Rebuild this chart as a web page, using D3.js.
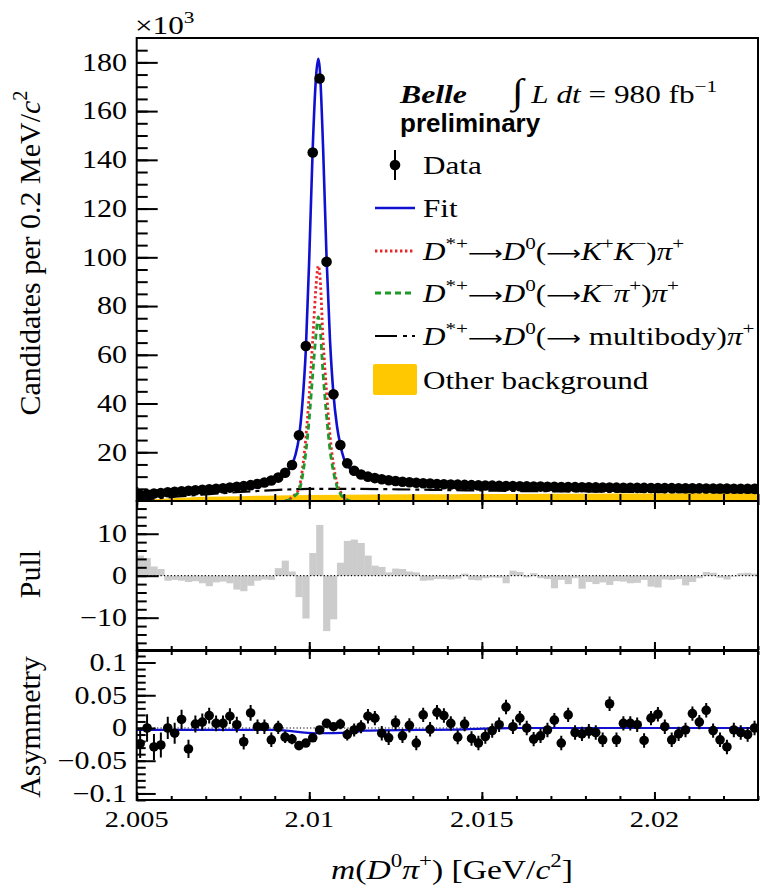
<!DOCTYPE html>
<html>
  <head>
    <meta charset="utf-8" />
    <title>Belle D*+ mass fit</title>
    <style>
      html,
      body {
        margin: 0;
        padding: 0;
        background: #fff;
      }
      svg {
        display: block;
      }
      text {
        font-family: 'Liberation Serif', 'Times New Roman', serif;
        fill: #000;
      }
    </style>
  </head>
  <body>
    <svg width="760" height="889"></svg>
    <script src="https://cdn.jsdelivr.net/npm/d3@7"></script>
    <script>
      // 0.2 MeV bins starting at 2.005 GeV
      const massLow = 2.005;
      const binWidth = 0.0002;

      // candidates per bin, x10^3
      const counts = [
        2.5, 2.8, 3.1, 3.3, 3.6, 3.8, 4.0, 4.2, 4.4, 4.6,
        4.8, 5.0, 5.2, 5.5, 5.8, 6.1, 6.5, 7.0, 7.6, 8.4,
        9.6, 11.6, 14.8, 27.0, 63.6, 143.0, 173.4, 98.2, 43.8, 23.0,
        15.5, 12.4, 10.9, 10.0, 9.4, 8.9, 8.5, 8.2, 7.9, 7.7,
        7.5, 7.3, 7.2, 7.0, 6.9, 6.8, 6.7, 6.6, 6.5, 6.4,
        6.35, 6.3, 6.2, 6.15, 6.1, 6.05, 6.0, 5.95, 5.9, 5.85,
        5.8, 5.75, 5.7, 5.68, 5.65, 5.6, 5.58, 5.55, 5.5, 5.48,
        5.45, 5.42, 5.4, 5.38, 5.35, 5.32, 5.3, 5.28, 5.25, 5.22,
        5.2, 5.18, 5.15, 5.12, 5.1, 5.08, 5.05, 5.02, 5.0, 4.98,
      ];

      const pulls = [
        4.8, 4.2, 2.2, 1.6, -1.2, -1.0, -1.2, -1.5, -1.3, -1.8,
        -2.5, -1.6, -1.4, -1.8, -3.3, -3.7, -2.4, -1.2, -0.9, -1.0,
        1.8, 3.6, 1.0, -5.1, -10.2, 5.4, 12.1, -13.2, -10.4, 3.1,
        8.3, 8.6, 7.8, 4.8, 2.4, 2.1, 0.8, 1.7, 1.6, 1.0,
        0.8, -1.2, -1.1, -0.8, -0.8, -0.9, -0.7, 0.5, -1.0, -1.1,
        -0.6, -0.4, -0.5, -1.8, 1.2, 0.9, -0.4, 0.6, -0.6, -0.8,
        -3.0, -1.0, -2.0, -0.6, -3.1, -1.5, -2.0, -1.6, -2.2, -1.3,
        -1.4, -1.8, -1.7, -1.0, -2.6, -2.8, -0.9, -1.0, -0.8, -2.3,
        -1.5, -0.6, 0.9, 0.7, -0.5, -0.9, -0.2, 0.6, 0.7, 0.5,
      ];

      const asym = [
        -0.024, 0, -0.029, -0.026, 0, -0.008, 0.013, -0.032, 0.006, 0.009,
        0.019, 0.007, 0.007, 0.018, 0.005, -0.021, 0.023, 0.002, 0.002, -0.018,
        0.001, -0.014, -0.017, -0.027, -0.023, -0.015, -0.003, 0.007, 0.002, 0.006,
        -0.01, -0.003, 0.002, 0.018, 0.015, -0.008, -0.015, 0.008, -0.012, 0.004,
        -0.023, 0.02, -0.002, 0.024, 0.019, 0.007, -0.014, 0.006, -0.016, -0.023,
        -0.013, -0.004, 0.005, 0.032, 0.002, 0.015, 0, -0.017, -0.012, -0.003,
        0.012, -0.023, 0.02, -0.007, -0.009, -0.005, -0.007, -0.018, 0.037, -0.018,
        0.007, 0.007, 0.005, -0.019, 0.015, 0.021, 0.002, -0.018, -0.009, -0.003,
        0.022, 0.009, 0.027, -0.004, -0.018, -0.029, -0.003, -0.007, -0.01, 0,
      ];

      const asymErr = [
        0.022, 0.021, 0.02, 0.019, 0.017, 0.016, 0.015, 0.014, 0.013, 0.013,
        0.012, 0.012, 0.012, 0.012, 0.012, 0.012, 0.012, 0.011, 0.011, 0.011,
        0.01, 0.009, 0.008, 0.006, 0.004, 0.003, 0.003, 0.004, 0.006, 0.008,
        0.009, 0.01, 0.01, 0.011, 0.011, 0.011, 0.011, 0.011, 0.011, 0.011,
        0.011, 0.011, 0.011, 0.011, 0.011, 0.011, 0.011, 0.011, 0.011, 0.011,
        0.011, 0.011, 0.011, 0.011, 0.011, 0.011, 0.011, 0.011, 0.011, 0.011,
        0.011, 0.011, 0.011, 0.011, 0.011, 0.011, 0.011, 0.011, 0.011, 0.011,
        0.011, 0.011, 0.011, 0.011, 0.011, 0.011, 0.011, 0.011, 0.011, 0.011,
        0.011, 0.011, 0.011, 0.011, 0.011, 0.011, 0.011, 0.011, 0.011, 0.011,
      ];

      // fit curves, x10^3
      const fitMass = [
        2.005, 2.006, 2.007, 2.008, 2.0085, 2.009, 2.0093, 2.0095, 2.0096, 2.0097,
        2.0098, 2.0099, 2.01, 2.0101, 2.0102, 2.01026, 2.0103, 2.0104, 2.0105, 2.0106,
        2.0107, 2.0108, 2.0109, 2.011, 2.0112, 2.0115, 2.012, 2.013, 2.014, 2.016,
        2.018, 2.02, 2.023,
      ];
      const fitYield = [
        2.4, 3.9, 4.8, 6.0, 7.0, 8.9, 11.6, 15.0, 19, 26,
        40, 62, 100, 145, 175, 181.5, 178, 145, 100, 66,
        44, 31, 23, 17.5, 13, 10.9, 9.1, 7.6, 6.9, 6.0,
        5.5, 5.2, 5.0,
      ];

      const sigMass = [
        2.0093, 2.0095, 2.0096, 2.0097, 2.0098, 2.0099, 2.01, 2.0101, 2.0102, 2.01026,
        2.0103, 2.0104, 2.0105, 2.0106, 2.0107, 2.0108, 2.0109, 2.011, 2.0112,
      ];
      const kkYield = [0, 1.5, 3, 5, 13, 26, 44, 66, 89, 96.5, 94, 66, 45, 27, 15, 7.5, 4, 1.5, 0];
      const kpiYield = [0, 1.2, 2.4, 4, 10, 20, 34, 52, 69, 75.5, 73, 52, 35, 21, 12, 6, 3, 1.2, 0];

      const multiMass = [
        2.005, 2.0055, 2.006, 2.0065, 2.007, 2.0075, 2.008, 2.0085, 2.009, 2.0095,
        2.01, 2.011, 2.012, 2.013, 2.014, 2.015, 2.016, 2.018, 2.02, 2.023,
      ];
      const multiYield = [
        0.4, 1.0, 1.6, 2.2, 2.7, 3.2, 3.7, 4.1, 4.5, 4.8,
        5.0, 5.0, 4.9, 4.7, 4.5, 4.3, 4.1, 3.9, 3.7, 3.5,
      ];

      const otherMass = [2.005, 2.0055, 2.006, 2.0065, 2.007, 2.008, 2.009, 2.01, 2.012, 2.014, 2.016, 2.018, 2.02, 2.023];
      const otherYield = [0.2, 0.7, 1.1, 1.4, 1.7, 2.0, 2.3, 2.5, 2.7, 2.8, 2.9, 3.0, 3.1, 3.2];

      const asymFitMass = [2.005, 2.009, 2.0102, 2.0112, 2.0116, 2.0145, 2.016, 2.023];
      const asymFitVal = [-0.003, -0.003, -0.008, -0.007, -0.004, -0.002, 0, 0];

      // axes
      const xMajor = [2.005, 2.01, 2.015, 2.02];
      const xLabels = ['2.005', '2.01', '2.015', '2.02'];
      const topMajor = [20, 40, 60, 80, 100, 120, 140, 160, 180];
      const pullMajor = [10, 0, -10];
      const pullLabels = ['10', '0', '\u221210'];
      const asymMajor = [0.1, 0.05, 0, -0.05, -0.1];
      const asymLabels = ['0.1', '0.05', '0', '\u22120.05', '\u22120.1'];
    </script>
    <script>
      const svg = d3.select('svg');
      const x0 = 136.7;
      const x1 = 758;
      const x = d3.scaleLinear().domain([2.005, 2.023]).range([x0, x1]);
      const yTop = d3.scaleLinear().domain([0, 190]).range([501, 38]);
      const yPull = d3.scaleLinear().domain([-17.7, 17.8]).range([650, 501]);
      const yAsym = d3.scaleLinear().domain([-0.11, 0.1176]).range([800, 651]);

      const bins = counts.map((c, i) => ({
        m: massLow + (i + 0.5) * binWidth,
        lo: massLow + i * binWidth,
        c: c,
        pull: pulls[i],
        a: asym[i],
        e: asymErr[i],
      }));

      const SX = 1.2; // glyphs in the picture are wider than tall

      function stext(g, px, py, anchor, size, sx) {
        return g
          .append('text')
          .attr('transform', `translate(${px},${py}) scale(${sx},1)`)
          .attr('text-anchor', anchor)
          .attr('font-size', size);
      }

      // parts: [text, flags] flags: i italic, s superscript, L large, a arrow
      function rich(t, parts, size) {
        let shift = 0;
        parts.forEach(([s, f = '']) => {
          const sh = f.includes('s') ? -size * 0.42 : 0;
          const ts = t.append('tspan').attr('dy', sh - shift).text(s);
          shift = sh;
          if (f.includes('s')) ts.attr('font-size', size * 0.68);
          if (f.includes('i')) ts.attr('font-style', 'italic');
          if (f.includes('L')) ts.attr('font-size', size * 1.35);
          if (f.includes('a')) ts.style('font-family', "'DejaVu Sans', sans-serif").attr('font-size', size * 0.78);
        });
        return t;
      }

      // clip paths per panel
      const defs = svg.append('defs');
      [
        ['clipTop', 38, 501],
        ['clipPull', 501, 650],
        ['clipAsym', 651, 800],
      ].forEach(([id, a, b]) => {
        defs.append('clipPath').attr('id', id).append('rect')
          .attr('x', x0).attr('y', a).attr('width', x1 - x0).attr('height', b - a);
      });

      // ---- top panel ----
      const topG = svg.append('g').attr('clip-path', 'url(#clipTop)');

      topG.append('path')
        .datum(otherMass.map((m, i) => [m, otherYield[i]]))
        .attr('fill', '#ffc800')
        .attr('d', d3.area().x((d) => x(d[0])).y0(yTop(0)).y1((d) => yTop(d[1])).curve(d3.curveMonotoneX));

      const line = (xs, ys, sy) =>
        d3.line().x((d) => x(d[0])).y((d) => sy(d[1])).curve(d3.curveMonotoneX)(xs.map((m, i) => [m, ys[i]]));

      topG.append('path')
        .attr('d', line(multiMass, multiYield, yTop))
        .attr('fill', 'none').attr('stroke', '#000').attr('stroke-width', 2.2)
        .attr('stroke-dasharray', '18,5,4,5');

      topG.append('path')
        .attr('d', line(sigMass, kkYield, yTop))
        .attr('fill', 'none').attr('stroke', '#e8262a').attr('stroke-width', 2.8)
        .attr('stroke-dasharray', '2.4,2.6');

      topG.append('path')
        .attr('d', line(sigMass, kpiYield, yTop))
        .attr('fill', 'none').attr('stroke', '#1e9a2a').attr('stroke-width', 2.8)
        .attr('stroke-dasharray', '6,4');

      topG.append('path')
        .attr('d', line(fitMass, fitYield, yTop))
        .attr('fill', 'none').attr('stroke', '#1010d0').attr('stroke-width', 2.6);

      topG.selectAll('.pt')
        .data(bins)
        .enter()
        .append('circle')
        .attr('cx', (d) => x(d.m))
        .attr('cy', (d) => yTop(d.c))
        .attr('r', 5.3)
        .attr('fill', '#000');

      // ---- pull panel ----
      const pullG = svg.append('g').attr('clip-path', 'url(#clipPull)');
      pullG.selectAll('rect')
        .data(bins)
        .enter()
        .append('rect')
        .attr('x', (d) => x(d.lo))
        .attr('width', x(binWidth + massLow) - x(massLow) + 0.3)
        .attr('y', (d) => yPull(Math.max(0, d.pull)))
        .attr('height', (d) => Math.abs(yPull(d.pull) - yPull(0)))
        .attr('fill', '#cccccc');
      pullG.append('line')
        .attr('x1', x0).attr('x2', x1).attr('y1', yPull(0)).attr('y2', yPull(0))
        .attr('stroke', '#000').attr('stroke-width', 1.2).attr('stroke-dasharray', '1.2,2.2');

      // ---- asymmetry panel ----
      const asymG = svg.append('g').attr('clip-path', 'url(#clipAsym)');
      asymG.append('line')
        .attr('x1', x0).attr('x2', x1).attr('y1', yAsym(0)).attr('y2', yAsym(0))
        .attr('stroke', '#000').attr('stroke-width', 1.2).attr('stroke-dasharray', '1.2,2.2');
      asymG.append('path')
        .attr('d', line(asymFitMass, asymFitVal, yAsym))
        .attr('fill', 'none').attr('stroke', '#1010d0').attr('stroke-width', 2.2);
      asymG.selectAll('.eb')
        .data(bins)
        .enter()
        .append('line')
        .attr('x1', (d) => x(d.m)).attr('x2', (d) => x(d.m))
        .attr('y1', (d) => yAsym(d.a - d.e)).attr('y2', (d) => yAsym(d.a + d.e))
        .attr('stroke', '#000').attr('stroke-width', 2);
      asymG.selectAll('.ap')
        .data(bins)
        .enter()
        .append('circle')
        .attr('cx', (d) => x(d.m))
        .attr('cy', (d) => yAsym(d.a))
        .attr('r', 4.8)
        .attr('fill', '#000');

      // ---- frames and ticks ----
      const xMinor = x.ticks(18);
      function tickG(axis, tx, ty) {
        const g = svg.append('g').attr('transform', `translate(${tx},${ty})`).call(axis);
        g.select('.domain').remove();
        g.selectAll('line').attr('stroke', '#000').attr('stroke-width', 2);
        return g;
      }
      function panelAxes(sy, yMajor, yMinor, yMaj, yMin, xMajUp, xMinUp, xMajDn, xMinDn) {
        const [b, t] = sy.range();
        tickG(d3.axisRight(sy).tickValues(yMinor).tickSize(yMin).tickFormat(''), x0, 0);
        tickG(d3.axisRight(sy).tickValues(yMajor).tickSize(yMaj).tickFormat(''), x0, 0);
        tickG(d3.axisTop(x).tickValues(xMinor).tickSize(xMinUp).tickFormat(''), 0, b);
        tickG(d3.axisTop(x).tickValues(xMajor).tickSize(xMajUp).tickFormat(''), 0, b);
        if (xMajDn) {
          tickG(d3.axisBottom(x).tickValues(xMinor).tickSize(xMinDn).tickFormat(''), 0, t);
          tickG(d3.axisBottom(x).tickValues(xMajor).tickSize(xMajDn).tickFormat(''), 0, t);
        }
        svg.append('rect')
          .attr('x', x0).attr('y', t).attr('width', x1 - x0).attr('height', b - t)
          .attr('fill', 'none').attr('stroke', '#000').attr('stroke-width', 2);
      }
      panelAxes(yTop, topMajor, d3.range(5, 190, 5), 21, 11, 14, 7, 0, 0);
      panelAxes(yPull, pullMajor, d3.range(-16, 18, 2), 22, 10, 8, 4, 8, 4);
      panelAxes(yAsym, asymMajor, d3.range(-11, 12).map((v) => v / 100), 19, 9, 8, 4, 8, 4);

      // ---- tick labels ----
      topMajor.forEach((v) => stext(svg, 127, yTop(v) + 8.3, 'end', 25, SX).text(v));
      pullMajor.forEach((v, i) => stext(svg, 127, yPull(v) + 8.3, 'end', 25, SX).text(pullLabels[i]));
      asymMajor.forEach((v, i) => stext(svg, 127, yAsym(v) + 8.3, 'end', 25, SX).text(asymLabels[i]));
      xMajor.forEach((v, i) => stext(svg, x(v), 827, 'middle', 24, 1.18).text(xLabels[i]));

      rich(stext(svg, 135, 34, 'start', 26, SX), [['\u00d710'], ['3', 's']], 26);

      // ---- axis titles ----
      const yTitle = (cy, parts) =>
        rich(
          svg.append('text')
            .attr('transform', `translate(40,${cy}) rotate(-90)`)
            .attr('text-anchor', 'middle')
            .attr('font-size', 30),
          parts,
          30
        );
      yTitle(253, [['Candidates per 0.2 MeV/'], ['c', 'i'], ['2', 's']]);
      yTitle(574, [['Pull']]);
      yTitle(727, [['Asymmetry']]);

      rich(stext(svg, 452, 879, 'middle', 28, SX), [
        ['m', 'i'], ['('], ['D', 'i'], ['0', 's'], ['\u03c0', 'i'], ['+', 's'], [') [GeV/'], ['c', 'i'], ['2', 's'], [']'],
      ], 28);

      // ---- legend ----
      stext(svg, 400, 103, 'start', 26, 1.22)
        .attr('font-weight', 'bold').attr('font-style', 'italic').text('Belle');
      rich(stext(svg, 512, 103, 'start', 26, 1.2), [
        ['\u222b', 'L'], ['  '], ['L', 'i'], [' '], ['dt', 'i'], [' = 980 fb'], ['\u22121', 's'],
      ], 26);
      svg.append('text')
        .attr('x', 400).attr('y', 132)
        .style('font-family', "'Liberation Sans', Arial, sans-serif")
        .attr('font-weight', 'bold').attr('font-size', 26)
        .text('preliminary');

      const arrow = ['\u27f6', 'a'];
      const legendRows = [
        { y: 165, label: [['Data']] },
        { y: 208, label: [['Fit']] },
        { y: 251, label: [['D', 'i'], ['*+', 's'], arrow, ['D', 'i'], ['0', 's'], ['('], arrow, ['K', 'i'], ['+', 's'], ['K', 'i'], ['\u2212', 's'], [')'], ['\u03c0', 'i'], ['+', 's']] },
        { y: 293, label: [['D', 'i'], ['*+', 's'], arrow, ['D', 'i'], ['0', 's'], ['('], arrow, ['K', 'i'], ['\u2212', 's'], ['\u03c0', 'i'], ['+', 's'], [')'], ['\u03c0', 'i'], ['+', 's']] },
        { y: 336, label: [['D', 'i'], ['*+', 's'], arrow, ['D', 'i'], ['0', 's'], ['('], arrow, [' multibody)'], ['\u03c0', 'i'], ['+', 's']] },
        { y: 380, label: [['Other background']] },
      ];
      legendRows.forEach((r) => rich(stext(svg, 423, r.y + 9, 'start', 25.5, 1.22), r.label, 25.5));

      const lg = svg.append('g');
      lg.append('line').attr('x1', 395).attr('x2', 395).attr('y1', 150).attr('y2', 180)
        .attr('stroke', '#000').attr('stroke-width', 2);
      lg.append('circle').attr('cx', 395).attr('cy', 165).attr('r', 5.3).attr('fill', '#000');
      lg.append('line').attr('x1', 375).attr('x2', 415).attr('y1', 208).attr('y2', 208)
        .attr('stroke', '#1010d0').attr('stroke-width', 2.6);
      lg.append('line').attr('x1', 375).attr('x2', 415).attr('y1', 251).attr('y2', 251)
        .attr('stroke', '#e8262a').attr('stroke-width', 2.8).attr('stroke-dasharray', '2.4,2.6');
      lg.append('line').attr('x1', 375).attr('x2', 415).attr('y1', 293).attr('y2', 293)
        .attr('stroke', '#1e9a2a').attr('stroke-width', 2.8).attr('stroke-dasharray', '6,4');
      lg.append('line').attr('x1', 375).attr('x2', 415).attr('y1', 336).attr('y2', 336)
        .attr('stroke', '#000').attr('stroke-width', 2.2).attr('stroke-dasharray', '22,6,4,5');
      lg.append('rect').attr('x', 373).attr('y', 364).attr('width', 44).attr('height', 31)
        .attr('rx', 2).attr('fill', '#ffc800');
    </script>
  </body>
</html>
